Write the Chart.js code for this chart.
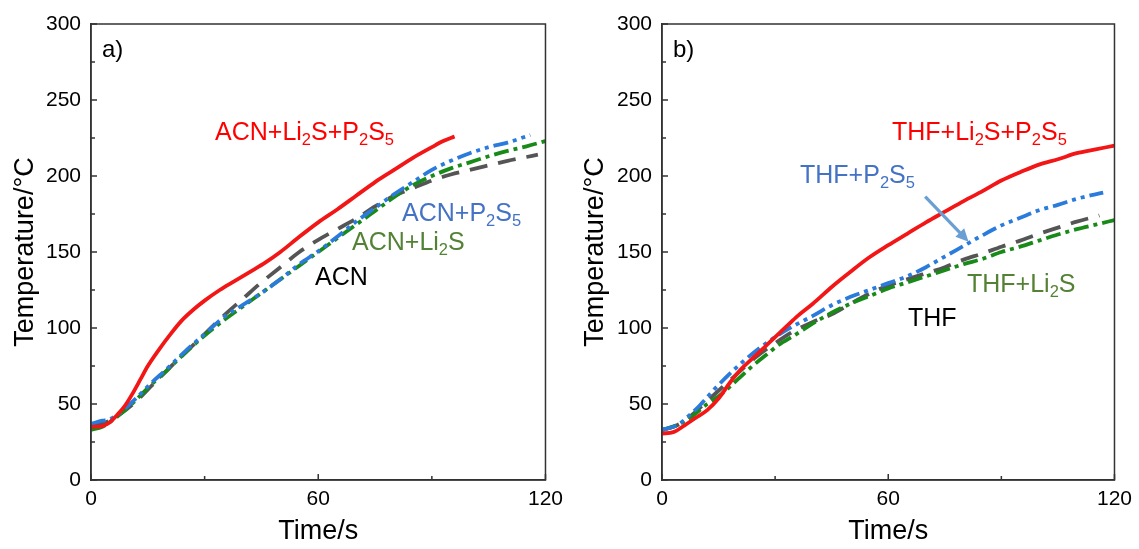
<!DOCTYPE html>
<html>
<head>
<meta charset="utf-8">
<script src="https://cdn.jsdelivr.net/npm/chart.js@4.4.0/dist/chart.umd.min.js"></script>
<style>
body { margin: 0; background: #fff; }
#wrap { position: relative; width: 1139px; height: 549px; overflow: hidden; font-family: "Liberation Sans", Arial, sans-serif; }
#wrap canvas { position: absolute; top: 0; }
.lbl { position: absolute; font-size: 25px; line-height: 1; white-space: nowrap; }
.lbl sub { font-size: 0.66em; vertical-align: -0.3em; line-height: 0; }
.tag { position: absolute; font-size: 24px; line-height: 1; color: #000; }
</style>
</head>
<body>
<div id="wrap">
  <canvas id="chartA" width="570" height="549" style="left:0"></canvas>
  <canvas id="chartB" width="569" height="549" style="left:570px"></canvas>

  <div class="tag" style="left:102px;top:37px">a)</div>
  <div class="lbl" style="left:215px;top:119px;color:#ff0000">ACN+Li<sub>2</sub>S+P<sub>2</sub>S<sub>5</sub></div>
  <div class="lbl" style="left:402px;top:200px;color:#4472c4">ACN+P<sub>2</sub>S<sub>5</sub></div>
  <div class="lbl" style="left:352px;top:229px;color:#548235">ACN+Li<sub>2</sub>S</div>
  <div class="lbl" style="left:315px;top:264px;color:#000">ACN</div>

  <div class="tag" style="left:673px;top:37px">b)</div>
  <div class="lbl" style="left:892px;top:119px;color:#ff0000">THF+Li<sub>2</sub>S+P<sub>2</sub>S<sub>5</sub></div>
  <div class="lbl" style="left:800px;top:162px;color:#4472c4">THF+P<sub>2</sub>S<sub>5</sub></div>
  <div class="lbl" style="left:967px;top:271px;color:#548235">THF+Li<sub>2</sub>S</div>
  <div class="lbl" style="left:908px;top:305px;color:#000">THF</div>
</div>
<script>
// ---- panel a) ACN ----
var tRedA   = [0, 3, 5, 7, 9, 11, 13, 15, 18, 21, 24, 27, 30, 34, 38, 42, 46, 50, 55, 60, 65, 70, 75, 80, 85, 90, 93, 96];
var tempRedA = [35, 35.5, 38, 43, 49, 57, 66, 75, 86, 96, 105, 112, 118, 125, 131, 137, 143, 150, 160, 169.5, 178, 187, 196, 204, 212, 219, 223, 226];

var tBlueA   = [0, 3, 5, 8, 12, 16, 20, 25, 30, 35, 40, 45, 50, 55, 60, 65, 70, 75, 80, 85, 90, 95, 100, 105, 110, 116];
var tempBlueA = [37, 39, 40, 45, 54, 64, 73, 85, 96, 107, 115, 123, 132, 142, 150.5, 160, 170, 179, 188, 196, 204, 210, 215, 219, 222, 227];

var tGreenA   = [0, 3, 6, 9, 12, 16, 20, 25, 30, 35, 40, 45, 50, 55, 60, 65, 70, 75, 80, 85, 90, 95, 100, 105, 110, 115, 120];
var tempGreenA = [33, 35, 40, 46, 53, 63, 72, 84, 95, 105, 114, 123, 132, 141, 150, 159, 168, 177, 186, 194, 200, 205, 209, 213, 216.5, 219.5, 223];

var tGrayA   = [0, 4, 8, 12, 16, 20, 25, 30, 35, 40, 45, 50, 55, 60, 65, 70, 75, 80, 85, 90, 95, 100, 105, 110, 115, 118];
var tempGrayA = [36, 38, 44, 52, 62, 72, 84, 96, 108, 119, 130, 140, 150, 158, 165, 172, 180, 187, 192, 197, 201, 204, 207, 210, 212.5, 214];

// ---- panel b) THF ----
var tRedB   = [0, 3, 6, 9, 12, 15, 18, 21, 24, 27, 30, 33, 36, 40, 45, 50, 55, 60, 65, 70, 75, 80, 85, 90, 95, 100, 105, 110, 115, 120];
var tempRedB = [30.6, 31.5, 36, 41, 46, 53.6, 64, 73, 80, 87, 94, 101, 108, 116, 127, 137, 146.5, 154.5, 162, 169.5, 176.5, 183.5, 190, 197, 202.5, 207.5, 211, 215, 217.5, 220];

var tBlueB   = [0, 4, 7, 10, 14, 18, 22, 26, 30, 35, 40, 45, 50, 55, 60, 65, 70, 75, 80, 85, 90, 95, 100, 105, 110, 117];
var tempBlueB = [33, 36, 42, 49, 60, 70, 79, 87, 94, 101.5, 108, 115, 120.5, 125, 129.5, 134, 140, 147, 154, 161, 167.5, 172.5, 177.5, 181, 185, 189];

var tGrayB   = [0, 4, 8, 12, 16, 20, 25, 30, 35, 40, 45, 50, 55, 60, 65, 70, 75, 80, 85, 90, 95, 100, 105, 110, 116];
var tempGrayB = [33, 36, 43, 52, 61, 70, 81, 90, 98, 104, 109, 116, 122.5, 128, 132, 136, 140, 145, 149, 153.5, 157.5, 162, 166, 170, 174];

var tGreenB   = [0, 4, 8, 12, 16, 20, 24, 28, 31, 35, 40, 45, 50, 55, 60, 65, 70, 75, 80, 85, 90, 95, 100, 105, 110, 115, 120];
var tempGreenB = [33, 36, 42, 50, 57, 66, 75, 83, 89, 95, 103, 110, 116, 121, 126, 130, 134, 138, 142, 145.5, 150, 153.5, 157.5, 161.5, 165, 168, 171];

// axes
var xTicks = [0, 60, 120];
var yTicks = [0, 50, 100, 150, 200, 250, 300];
var xMinor = [30, 90];
var yMinor = [25, 75, 125, 175, 225, 275];

// arrow in panel b), in data units [time, temperature]
var arrowFrom = [69.8, 186.4];
var arrowTo = [81.3, 156.8];

Chart.defaults.font.family = "'Liberation Sans', Arial, sans-serif";
Chart.defaults.color = '#000';

function pts(t, v) {
    return t.map(function(x, i) { return {x: x, y: v[i]}; });
}

function line(label, t, v, color, dash) {
    return {
        label: label,
        data: pts(t, v),
        borderColor: color,
        borderWidth: 3.8,
        borderDash: dash,
        borderCapStyle: 'butt',
        pointRadius: 0,
        fill: false,
        cubicInterpolationMode: 'monotone'
    };
}

// box round the plot, plus all tick marks (pointing inward)
var frame = {
    id: 'frame',
    afterDatasetsDraw: function(chart) {
        var ctx = chart.ctx, a = chart.chartArea;
        var x = chart.scales.x, y = chart.scales.y;
        ctx.save();
        ctx.strokeStyle = '#333';
        ctx.lineWidth = 1.5;
        ctx.strokeRect(a.left, a.top, a.right - a.left, a.bottom - a.top);
        ctx.beginPath();
        yTicks.forEach(function(v) {
            var p = y.getPixelForValue(v);
            ctx.moveTo(a.left, p); ctx.lineTo(a.left + 6, p);
        });
        yMinor.forEach(function(v) {
            var p = y.getPixelForValue(v);
            ctx.moveTo(a.left, p); ctx.lineTo(a.left + 4, p);
        });
        xTicks.forEach(function(v) {
            var p = x.getPixelForValue(v);
            ctx.moveTo(p, a.bottom); ctx.lineTo(p, a.bottom - 6);
        });
        xMinor.forEach(function(v) {
            var p = x.getPixelForValue(v);
            ctx.moveTo(p, a.bottom); ctx.lineTo(p, a.bottom - 4);
        });
        ctx.stroke();
        ctx.restore();
    }
};

var arrow = {
    id: 'arrow',
    afterDatasetsDraw: function(chart) {
        var ctx = chart.ctx;
        var x = chart.scales.x, y = chart.scales.y;
        var x0 = x.getPixelForValue(arrowFrom[0]), y0 = y.getPixelForValue(arrowFrom[1]);
        var x1 = x.getPixelForValue(arrowTo[0]), y1 = y.getPixelForValue(arrowTo[1]);
        var ang = Math.atan2(y1 - y0, x1 - x0);
        var head = 14;
        ctx.save();
        ctx.strokeStyle = '#6a9fd4';
        ctx.fillStyle = '#6a9fd4';
        ctx.lineWidth = 3.2;
        ctx.beginPath();
        ctx.moveTo(x0, y0);
        ctx.lineTo(x1 - Math.cos(ang) * head * 0.8, y1 - Math.sin(ang) * head * 0.8);
        ctx.stroke();
        ctx.beginPath();
        ctx.moveTo(x1, y1);
        ctx.lineTo(x1 - head * Math.cos(ang - 0.45), y1 - head * Math.sin(ang - 0.45));
        ctx.lineTo(x1 - head * Math.cos(ang + 0.45), y1 - head * Math.sin(ang + 0.45));
        ctx.closePath();
        ctx.fill();
        ctx.restore();
    }
};

function axisX() {
    return {
        type: 'linear', min: 0, max: 120,
        afterBuildTicks: function(s) { s.ticks = xTicks.map(function(v) { return {value: v}; }); },
        afterFit: function(s) { s.height = 69; },
        ticks: { font: {size: 21}, color: '#000', padding: 7, maxRotation: 0 },
        grid: { drawOnChartArea: false, drawTicks: false },
        border: { display: true, color: '#333', width: 1.5 },
        title: { display: true, text: 'Time/s', font: {size: 27}, color: '#000', padding: {top: 0, bottom: 1} }
    };
}

function axisY(w) {
    return {
        type: 'linear', min: 0, max: 300,
        afterBuildTicks: function(s) { s.ticks = yTicks.map(function(v) { return {value: v}; }); },
        afterFit: function(s) { s.width = w; },
        ticks: { font: {size: 21}, color: '#000', padding: 10 },
        grid: { drawOnChartArea: false, drawTicks: false },
        border: { display: true, color: '#333', width: 1.5 },
        title: { display: true, text: 'Temperature/\u00B0C', font: {size: 27}, color: '#000', padding: {top: 9, bottom: 0} }
    };
}

function makeChart(id, sets, yWidth, padRight, extra) {
    return new Chart(document.getElementById(id), {
        type: 'line',
        data: { datasets: sets },
        options: {
            responsive: false,
            animation: false,
            devicePixelRatio: 1,
            layout: { padding: {top: 24, right: padRight, left: 0, bottom: 0} },
            scales: { x: axisX(), y: axisY(yWidth) },
            plugins: { legend: {display: false}, tooltip: {enabled: false} }
        },
        plugins: [frame].concat(extra)
    });
}

var dashBlue = [15, 5, 4, 5, 4, 5];
var dashGreen = [15, 5, 4, 5];
var dashGray = [18, 11];

makeChart('chartA', [
    line('ACN+Li2S+P2S5', tRedA, tempRedA, '#f21616', []),
    line('ACN+P2S5', tBlueA, tempBlueA, '#2a7bdc', dashBlue),
    line('ACN+Li2S', tGreenA, tempGreenA, '#178a17', dashGreen),
    line('ACN', tGrayA, tempGrayA, '#555555', dashGray)
], 91, 23, []);

makeChart('chartB', [
    line('THF+Li2S+P2S5', tRedB, tempRedB, '#f21616', []),
    line('THF+P2S5', tBlueB, tempBlueB, '#2a7bdc', dashBlue),
    line('THF+Li2S', tGreenB, tempGreenB, '#178a17', dashGreen),
    line('THF', tGrayB, tempGrayB, '#555555', dashGray)
], 92, 22, [arrow]);
</script>
</body>
</html>
